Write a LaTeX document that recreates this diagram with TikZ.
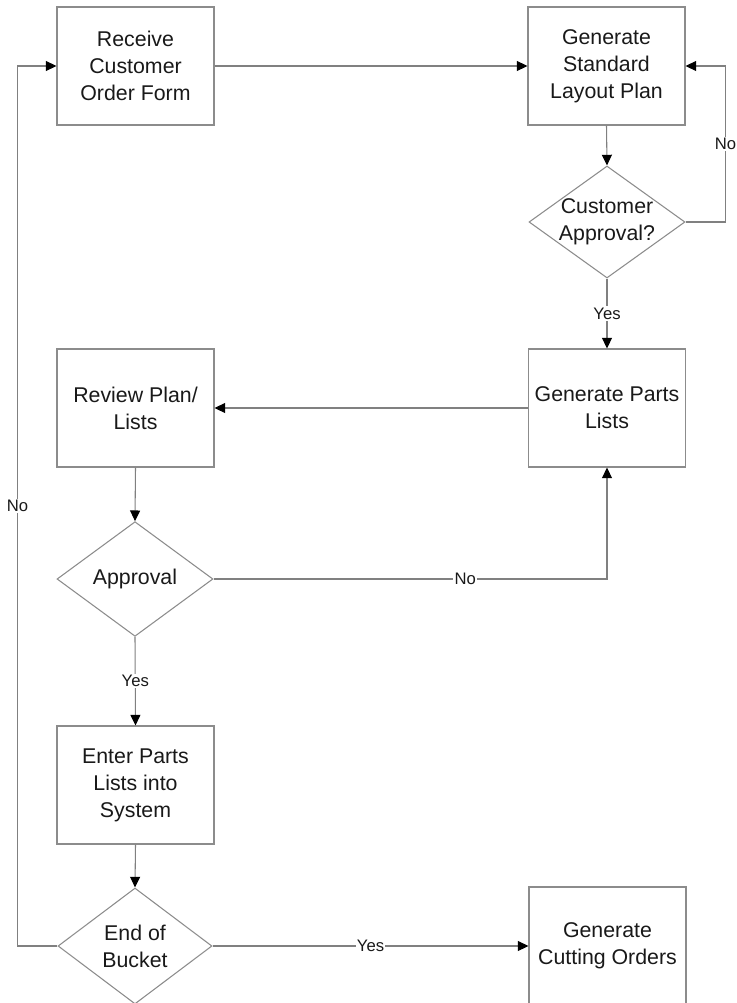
\documentclass[tikz,border=0pt]{standalone}
\usepackage{fontspec}
\setmainfont{Liberation Sans}
\usetikzlibrary{shapes.geometric,arrows.meta}

\tikzset{
  box/.style={rectangle, draw=black!45, line width=0.8pt, minimum width=117.75pt,
    minimum height=88.5pt, inner sep=2pt, align=center, text=black!90,
    font=\fontsize{16}{20.25}\selectfont},
  dia/.style={diamond, draw=black!45, line width=0.8pt, inner sep=0pt},
  diatext/.style={align=center, text=black!90, inner sep=0pt,
    font=\fontsize{16}{20.25}\selectfont},
  flow/.style={draw=black!50, line width=0.8pt,
    -{Triangle[length=8pt,width=7.5pt,fill=black,color=black]}},
  lbl/.style={fill=white, inner sep=1pt, text=black!90,
    font=\fontsize{12.5}{14}\selectfont}
}

\begin{document}
\begin{tikzpicture}[x=0.75pt, y=-0.75pt]
  \useasboundingbox (0,0) rectangle (737,1003);

  % process boxes
  \node[box] (recv) at (135.5,66) {Receive\\Customer\\Order Form};
  \node[box] (gslp) at (606.5,66) {Generate\\Standard\\Layout Plan};
  \node[box] (gpl)  at (607,408)  {Generate Parts\\Lists};
  \node[box] (rpl)  at (135.5,408) {Review Plan/\\Lists};
  \node[box] (epl)  at (135.5,785) {Enter Parts\\Lists into\\System};
  \node[box] (gco)  at (607.5,946) {Generate\\Cutting Orders};

  % decisions
  \node[dia, minimum width=117pt, minimum height=84pt,
        label={[diatext]center:Customer\\Approval?}] (capp) at (607,222) {};
  \node[dia, minimum width=117pt, minimum height=86pt,
        label={[diatext]center:Approval}] (appr) at (135,579) {};
  \node[dia, minimum width=115.5pt, minimum height=87pt,
        label={[diatext]center:End of\\Bucket}] (eob) at (135,946) {};

  % connectors
  \draw[flow] (recv.east) -- (gslp.west);
  \draw[flow] (gslp.south) -- (capp.north);
  \draw[flow] (capp.east) -- ++(40,0) |- node[lbl, pos=0.25] {No} (gslp.east);
  \draw[flow] (capp.south) -- node[lbl] {Yes} (gpl.north);
  \draw[flow] (gpl.west) -- (rpl.east);
  \draw[flow] (rpl.south) -- (appr.north);
  \draw[flow] (appr.east) -| node[lbl, pos=0.32] {No} (gpl.south);
  \draw[flow] (appr.south) -- node[lbl] {Yes} (epl.north);
  \draw[flow] (epl.south) -- (eob.north);
  \draw[flow] (eob.east) -- node[lbl] {Yes} (gco.west);
  \draw[flow] (eob.west) -- ++(-40,0) |- node[lbl, pos=0.25] {No} (recv.west);
\end{tikzpicture}
\end{document}
